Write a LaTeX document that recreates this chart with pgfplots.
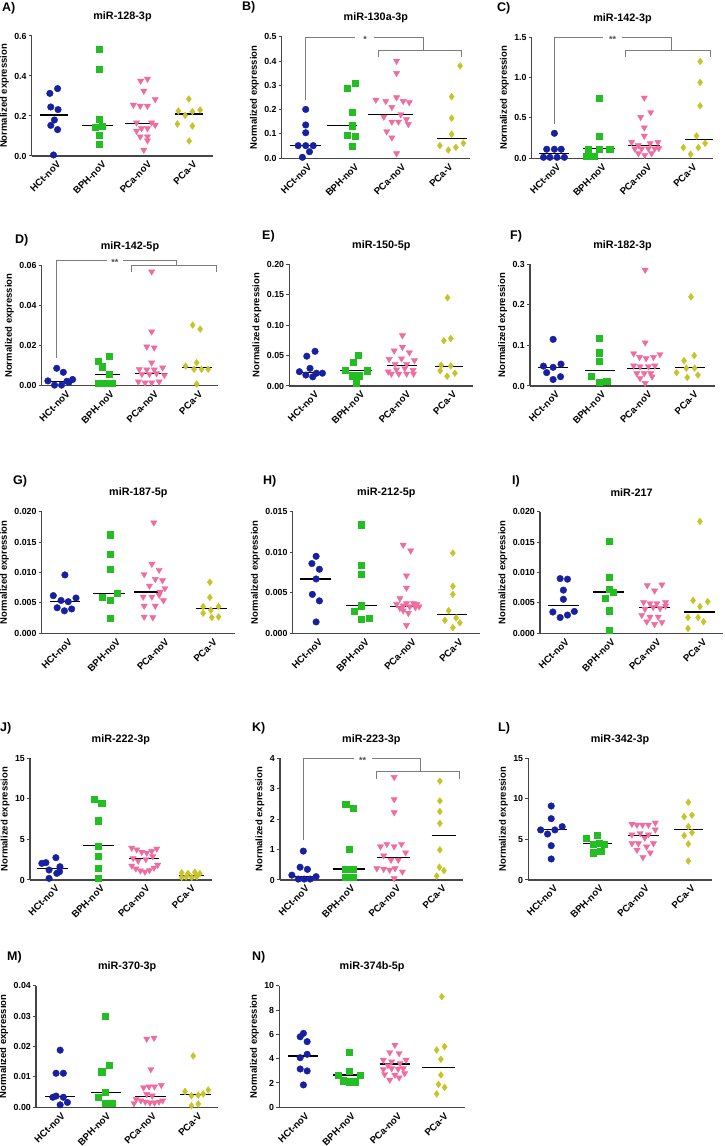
\documentclass[border=0pt]{standalone}
\usepackage{pgfplots}
\pgfplotsset{compat=1.18}
\usepackage{fontspec}
\setmainfont{Liberation Sans}
\newcommand{\fs}[1]{\fontsize{#1}{#1}\selectfont\bfseries}
\definecolor{cH}{RGB}{22,32,160}
\definecolor{cB}{RGB}{34,190,34}
\definecolor{cP}{RGB}{240,108,160}
\definecolor{cV}{RGB}{200,196,40}
\definecolor{axc}{RGB}{70,70,70}
\definecolor{brc}{RGB}{125,125,125}
\pgfplotsset{
 mp/.style={scale only axis, anchor=south west, xmin=-0.5, xmax=3.5, ymin=0, clip=false,
  scaled y ticks=false,
  axis lines*=left, axis line style={line width=1.2pt, axc},
  tick style={line width=1pt, axc}, tick align=outside, major tick length=3pt,
  xtick={0,1,2,3}, xticklabels={HCt-noV,BPH-noV,PCa-noV,PCa-V},
  x tick style={draw=none},
  xticklabel style={font=\fs{9.6}, inner sep=0.5pt, xshift=5pt, yshift=-3.5pt, rotate=45, anchor=east},
  yticklabel style={font=\fs{8.8}, inner sep=2pt},
  ylabel={Normalized expression}, ylabel style={font=\fs{9.5}},
  title style={font=\fs{10.8}, at={(0.5,1)}, anchor=center, yshift=13pt},
 },
 sH/.style={only marks, mark=*, mark size=3.3pt, color=cH},
 sB/.style={only marks, mark=square*, mark size=3.1pt, color=cB},
 sP/.style={only marks, mark=triangle*, mark size=3.6pt, color=cP, mark options={rotate=180}},
 sV/.style={only marks, mark=diamond*, mark size=3.4pt, color=cV},
 med/.style={no marks, black, line width=1.1pt},
 brk/.style={no marks, brc, line width=0.8pt},
}
\begin{document}
\begin{tikzpicture}
\useasboundingbox (0pt,0pt) rectangle (724pt,1146pt);
% letters
\node[anchor=west, font=\fs{12.5}, inner sep=0pt] at (2pt,1138pt) {A)};
\node[anchor=west, font=\fs{12.5}, inner sep=0pt] at (242pt,1139pt) {B)};
\node[anchor=west, font=\fs{12.5}, inner sep=0pt] at (497pt,1138pt) {C)};
\node[anchor=west, font=\fs{12.5}, inner sep=0pt] at (15pt,906pt) {D)};
\node[anchor=west, font=\fs{12.5}, inner sep=0pt] at (262pt,910pt) {E)};
\node[anchor=west, font=\fs{12.5}, inner sep=0pt] at (510pt,910pt) {F)};
\node[anchor=west, font=\fs{12.5}, inner sep=0pt] at (13pt,665pt) {G)};
\node[anchor=west, font=\fs{12.5}, inner sep=0pt] at (263pt,665pt) {H)};
\node[anchor=west, font=\fs{12.5}, inner sep=0pt] at (512pt,665pt) {I)};
\node[anchor=west, font=\fs{12.5}, inner sep=0pt] at (0pt,418pt) {J)};
\node[anchor=west, font=\fs{12.5}, inner sep=0pt] at (252pt,418pt) {K)};
\node[anchor=west, font=\fs{12.5}, inner sep=0pt] at (498pt,418pt) {L)};
\node[anchor=west, font=\fs{12.5}, inner sep=0pt] at (7pt,189pt) {M)};
\node[anchor=west, font=\fs{12.5}, inner sep=0pt] at (252pt,189pt) {N)};

% ---------------- A
\begin{axis}[mp, at={(31.7pt,990pt)}, width=181.6pt, height=120pt, ymax=0.6,
 ytick={0,0.2,0.4,0.6}, yticklabels={0.0,0.2,0.4,0.6}, title={miR-128-3p}]
\addplot[sH] coordinates {(-0.10,0.313) (0.07,0.337) (-0.08,0.245) (0.08,0.232) (0.00,0.180) (-0.08,0.153) (0.07,0.132) (-0.02,0.005)};
\addplot[sB] coordinates {(0.98,0.535) (0.98,0.433) (0.98,0.183) (0.89,0.143) (1.06,0.150) (0.98,0.105) (0.98,0.060)};
\addplot[sP] coordinates {(1.90,0.375) (2.05,0.385) (1.97,0.325) (2.22,0.283) (1.74,0.255) (1.89,0.250) (2.05,0.250) (1.81,0.167) (2.14,0.167) (2.22,0.155) (1.92,0.138) (2.05,0.138) (1.81,0.125) (1.89,0.097) (2.05,0.097) (2.05,0.077) (1.97,0.030)};
\addplot[sV] coordinates {(2.96,0.285) (2.73,0.225) (3.04,0.222) (3.21,0.230) (2.88,0.203) (2.71,0.160) (3.04,0.150) (2.97,0.075)};
\addplot[med] coordinates {(-0.32,0.205) (0.31,0.205)};
\addplot[med] coordinates {(0.60,0.152) (1.30,0.152)};
\addplot[med] coordinates {(1.56,0.162) (2.29,0.162)};
\addplot[med] coordinates {(2.66,0.210) (3.28,0.210)};
\end{axis}

% ---------------- B
\begin{axis}[mp, at={(281.7pt,987.7pt)}, width=188.3pt, height=121.6pt, ymax=0.5,
 ytick={0,0.1,0.2,0.3,0.4,0.5}, yticklabels={0.0,0.1,0.2,0.3,0.4,0.5}, title={miR-130a-3p}]
\addplot[brk] coordinates {(0.01,0.24) (0.01,0.496) (1.06,0.496)};
\addplot[brk] coordinates {(1.45,0.496) (2.50,0.496) (2.50,0.445)};
\addplot[brk] coordinates {(1.55,0.415) (1.55,0.445) (3.32,0.445) (3.32,0.415)};
\node[font=\fs{9}, text=black!70, yshift=-2pt] at (axis cs:1.27,0.496) {*};
\addplot[sH] coordinates {(0.01,0.201) (0.01,0.137) (0.01,0.105) (-0.15,0.052) (0.01,0.052) (0.17,0.052) (0.09,0.027) (-0.06,0.004)};
\addplot[sB] coordinates {(0.89,0.288) (1.06,0.308) (0.99,0.188) (0.99,0.134) (0.89,0.096) (1.06,0.092) (0.99,0.051)};
\addplot[sP] coordinates {(1.94,0.40) (1.94,0.35) (1.94,0.25) (1.50,0.24) (1.71,0.235) (2.08,0.235) (2.21,0.23) (1.84,0.21) (2.03,0.18) (1.67,0.17) (2.15,0.16) (1.84,0.15) (1.98,0.15) (2.19,0.14) (1.73,0.11) (1.84,0.085) (1.94,0.02)};
\addplot[sV] coordinates {(3.29,0.38) (3.11,0.253) (3.11,0.165) (3.11,0.099) (2.86,0.052) (3.04,0.034) (3.20,0.045) (3.36,0.062)};
\addplot[med] coordinates {(-0.32,0.052) (0.34,0.052)};
\addplot[med] coordinates {(0.47,0.134) (1.11,0.134)};
\addplot[med] coordinates {(1.34,0.18) (2.28,0.18)};
\addplot[med] coordinates {(2.79,0.08) (3.44,0.08)};
\end{axis}

% ---------------- C
\begin{axis}[mp, at={(531.7pt,987.7pt)}, width=181.6pt, height=121pt, ymax=1.5,
 ytick={0,0.5,1,1.5}, yticklabels={0.0,0.5,1.0,1.5}, title={miR-142-3p}]
\addplot[brk] coordinates {(-0.01,0.43) (-0.01,1.5) (1.08,1.5)};
\addplot[brk] coordinates {(1.48,1.5) (2.57,1.5) (2.57,1.335)};
\addplot[brk] coordinates {(1.57,1.25) (1.57,1.335) (3.43,1.335) (3.43,1.25)};
\node[font=\fs{9}, text=black!70, yshift=-2pt] at (axis cs:1.28,1.5) {**};
\addplot[sH] coordinates {(0.00,0.31) (-0.17,0.112) (0.00,0.112) (0.15,0.112) (-0.24,0.012) (-0.10,0.012) (0.06,0.012) (0.22,0.012)};
\addplot[sB] coordinates {(0.98,0.74) (0.98,0.277) (0.75,0.116) (0.98,0.116) (1.22,0.116) (0.71,0.03) (0.88,0.03)};
\addplot[sP] coordinates {(1.98,0.75) (2.12,0.57) (1.90,0.51) (1.98,0.38) (1.98,0.277) (1.70,0.20) (1.85,0.16) (2.11,0.185) (2.28,0.20) (1.77,0.12) (1.92,0.12) (2.07,0.12) (2.21,0.12) (1.85,0.06) (1.99,0.04) (2.14,0.06) (2.30,0.124)};
\addplot[sV] coordinates {(3.21,1.20) (3.21,0.94) (3.21,0.65) (3.13,0.277) (3.32,0.186) (2.84,0.132) (3.17,0.132) (3.00,0.05)};
\addplot[med] coordinates {(-0.35,0.058) (0.33,0.058)};
\addplot[med] coordinates {(0.64,0.116) (1.34,0.116)};
\addplot[med] coordinates {(1.63,0.16) (2.33,0.16)};
\addplot[med] coordinates {(2.88,0.23) (3.50,0.23)};
\end{axis}

% ---------------- D
\begin{axis}[mp, at={(41.7pt,760.3pt)}, width=176.6pt, height=120pt, ymax=0.06,
 ytick={0,0.02,0.04,0.06}, yticklabels={0.00,0.02,0.04,0.06}, title={miR-142-5p}]
\addplot[brk] coordinates {(-0.16,0.0137) (-0.16,0.0625) (0.97,0.0625)};
\addplot[brk] coordinates {(1.35,0.0625) (2.56,0.0625) (2.56,0.0603)};
\addplot[brk] coordinates {(1.54,0.0567) (1.54,0.0603) (3.45,0.0603) (3.45,0.0567)};
\node[font=\fs{9}, text=black!70, yshift=-2pt] at (axis cs:1.16,0.0625) {**};
\addplot[sH] coordinates {(-0.16,0.0087) (-0.01,0.0067) (-0.36,0.0024) (0.07,0.0022) (0.20,0.0031) (-0.21,0.0003) (-0.05,0.0003) (0.12,0.0018)};
\addplot[sB] coordinates {(0.78,0.0123) (1.02,0.0148) (0.87,0.0095) (1.02,0.0058) (0.78,0.0012) (0.94,0.0012) (1.10,0.0012)};
\addplot[sP] coordinates {(1.99,0.057) (1.99,0.027) (1.88,0.0195) (2.05,0.019) (1.99,0.0115) (1.71,0.0082) (1.88,0.008) (2.05,0.008) (2.24,0.009) (1.77,0.0058) (1.94,0.0058) (2.10,0.0062) (2.28,0.0053) (1.69,0.002) (1.84,0.0015) (1.99,0.0015) (2.16,0.002)};
\addplot[sV] coordinates {(2.92,0.0303) (3.09,0.0283) (3.01,0.0115) (2.76,0.0098) (2.95,0.0082) (3.12,0.0082) (3.27,0.0082) (3.01,0.0008)};
\addplot[med] coordinates {(-0.39,0.0022) (0.25,0.0022)};
\addplot[med] coordinates {(0.71,0.0058) (1.27,0.0058)};
\addplot[med] coordinates {(1.61,0.0063) (2.33,0.0063)};
\addplot[med] coordinates {(2.67,0.009) (3.35,0.009)};
\end{axis}

% ---------------- E
\begin{axis}[mp, at={(289.3pt,760pt)}, width=184pt, height=121.7pt, ymax=0.2,
 ytick={0,0.05,0.1,0.15,0.2}, yticklabels={0.00,0.05,0.10,0.15,0.20}, title={miR-150-5p}]
\addplot[sH] coordinates {(-0.12,0.049) (0.06,0.057) (-0.05,0.029) (-0.28,0.0235) (-0.14,0.018) (0.01,0.015) (0.09,0.021) (0.22,0.021)};
\addplot[sB] coordinates {(1.00,0.050) (0.89,0.039) (0.71,0.026) (1.20,0.025) (0.86,0.017) (1.02,0.017) (0.96,0.004)};
\addplot[sP] coordinates {(1.96,0.083) (1.96,0.064) (1.78,0.058) (2.11,0.055) (1.67,0.044) (1.94,0.045) (2.22,0.042) (1.80,0.036) (2.05,0.036) (1.65,0.0235) (1.83,0.027) (2.01,0.029) (2.19,0.026) (1.72,0.02) (1.88,0.02) (2.05,0.02) (2.20,0.02)};
\addplot[sV] coordinates {(2.94,0.145) (3.01,0.078) (2.86,0.0745) (2.80,0.034) (3.01,0.033) (2.78,0.025) (3.10,0.021) (2.93,0.016)};
\addplot[med] coordinates {(-0.30,0.0225) (0.28,0.0225)};
\addplot[med] coordinates {(0.60,0.025) (1.29,0.025)};
\addplot[med] coordinates {(1.62,0.0334) (2.27,0.0334)};
\addplot[med] coordinates {(2.67,0.032) (3.28,0.032)};
\end{axis}

% ---------------- F
\begin{axis}[mp, at={(530pt,760pt)}, width=185pt, height=121.7pt, ymax=0.3,
 ytick={0,0.1,0.2,0.3}, yticklabels={0.0,0.1,0.2,0.3}, title={miR-182-3p}]
\addplot[sH] coordinates {(0.00,0.115) (-0.21,0.049) (0.00,0.046) (0.17,0.054) (-0.14,0.033) (0.00,0.016) (0.16,0.023)};
\addplot[sB] coordinates {(1.00,0.1175) (1.00,0.082) (1.00,0.062) (0.83,0.025) (1.00,0.009) (1.16,0.011)};
\addplot[sP] coordinates {(1.99,0.286) (1.99,0.107) (1.74,0.080) (1.87,0.071) (2.01,0.068) (2.17,0.071) (2.31,0.078) (1.74,0.050) (1.88,0.048) (2.06,0.048) (2.20,0.050) (1.81,0.031) (1.97,0.031) (2.11,0.031) (1.88,0.019) (2.14,0.023) (1.99,0.007)};
\addplot[sV] coordinates {(2.98,0.220) (2.83,0.0625) (3.05,0.075) (2.67,0.033) (2.88,0.044) (3.06,0.044) (2.90,0.021) (3.13,0.027)};
\addplot[med] coordinates {(-0.32,0.046) (0.33,0.046)};
\addplot[med] coordinates {(0.69,0.039) (1.34,0.039)};
\addplot[med] coordinates {(1.59,0.044) (2.32,0.044)};
\addplot[med] coordinates {(2.64,0.046) (3.29,0.046)};
\end{axis}

% ---------------- G
\begin{axis}[mp, at={(41.7pt,512.7pt)}, width=193.3pt, height=121.6pt, ymax=0.02,
 ytick={0,0.005,0.01,0.015,0.02}, yticklabels={0.000,0.005,0.010,0.015,0.020}, title={miR-187-5p}]
\addplot[sH] coordinates {(-0.02,0.0096) (-0.26,0.0062) (0.21,0.0058) (-0.10,0.0054) (0.05,0.0052) (-0.18,0.0042) (-0.03,0.0037) (0.12,0.0040)};
\addplot[sB] coordinates {(0.91,0.0162) (0.91,0.0130) (0.91,0.0105) (0.76,0.0060) (1.07,0.0066) (0.91,0.0055) (0.91,0.0025)};
\addplot[sP] coordinates {(1.82,0.0182) (1.78,0.0114) (1.93,0.0104) (1.62,0.0097) (1.85,0.0089) (2.00,0.0087) (1.73,0.0078) (2.05,0.0074) (1.60,0.0060) (1.78,0.0060) (1.93,0.0063) (2.02,0.0054) (1.62,0.0045) (1.85,0.0045) (1.62,0.0027) (1.80,0.0026) (1.95,0.0068)};
\addplot[sV] coordinates {(2.98,0.0084) (2.98,0.0059) (2.84,0.0044) (3.16,0.0044) (3.00,0.0038) (2.84,0.0033) (3.02,0.0026) (3.16,0.0027)};
\addplot[med] coordinates {(-0.33,0.0052) (0.29,0.0052)};
\addplot[med] coordinates {(0.57,0.0066) (1.22,0.0066)};
\addplot[med] coordinates {(1.40,0.0068) (1.98,0.0068)};
\addplot[med] coordinates {(2.69,0.0041) (3.33,0.0041)};
\end{axis}

% ---------------- H
\begin{axis}[mp, at={(292.7pt,512.7pt)}, width=187.3pt, height=121.6pt, ymax=0.015,
 ytick={0,0.005,0.01,0.015}, yticklabels={0.000,0.005,0.010,0.015}, title={miR-212-5p}]
\addplot[sH] coordinates {(0.00,0.0095) (-0.09,0.0086) (0.07,0.0079) (0.00,0.0067) (-0.08,0.0048) (0.07,0.0040) (0.00,0.0014)};
\addplot[sB] coordinates {(0.97,0.0134) (0.97,0.0084) (0.97,0.0073) (0.97,0.0034) (0.81,0.0027) (0.97,0.0017) (1.13,0.0019)};
\addplot[sP] coordinates {(1.86,0.0109) (2.02,0.0102) (1.93,0.0071) (1.93,0.0056) (1.79,0.0043) (1.93,0.0037) (2.08,0.0037) (1.72,0.0036) (2.15,0.0036) (1.86,0.0034) (2.00,0.0033) (1.79,0.0031) (2.12,0.0032) (1.97,0.0025) (1.86,0.0028) (2.20,0.0033) (1.93,0.0010)};
\addplot[sV] coordinates {(2.92,0.0099) (2.92,0.0058) (2.92,0.0048) (2.83,0.0028) (2.75,0.0016) (2.99,0.0019) (3.07,0.0013) (2.92,0.0007)};
\addplot[med] coordinates {(-0.34,0.0067) (0.31,0.0067)};
\addplot[med] coordinates {(0.64,0.0034) (1.29,0.0034)};
\addplot[med] coordinates {(1.58,0.0033) (2.25,0.0033)};
\addplot[med] coordinates {(2.58,0.0023) (3.23,0.0023)};
\end{axis}

% ---------------- I
\begin{axis}[mp, at={(540pt,512.7pt)}, width=183.3pt, height=121.6pt, ymax=0.02,
 ytick={0,0.005,0.01,0.015,0.02}, yticklabels={0.000,0.005,0.010,0.015,0.020}, title={miR-217}]
\addplot[sH] coordinates {(-0.06,0.0090) (0.10,0.0089) (0.01,0.0071) (0.01,0.0056) (-0.22,0.0035) (-0.06,0.0026) (0.10,0.0030) (0.25,0.0036)};
\addplot[sB] coordinates {(1.01,0.0151) (1.01,0.0092) (1.01,0.0073) (1.10,0.0067) (0.93,0.0058) (1.01,0.0037) (1.01,0.0005)};
\addplot[sP] coordinates {(1.84,0.0079) (2.16,0.0080) (2.00,0.0070) (1.76,0.0051) (1.90,0.0049) (2.05,0.0049) (2.24,0.0051) (1.79,0.0040) (1.97,0.0043) (2.12,0.0041) (1.72,0.0030) (1.90,0.0027) (2.08,0.0027) (1.83,0.0019) (2.00,0.0015) (2.16,0.0018) (2.24,0.0045)};
\addplot[sV] coordinates {(2.99,0.0184) (2.84,0.0054) (3.16,0.0052) (2.99,0.0044) (2.73,0.0026) (2.95,0.0026) (3.07,0.0019) (2.73,0.0008)};
\addplot[med] coordinates {(-0.32,0.0045) (0.36,0.0045)};
\addplot[med] coordinates {(0.66,0.0068) (1.33,0.0068)};
\addplot[med] coordinates {(1.67,0.0042) (2.34,0.0042)};
\addplot[med] coordinates {(2.64,0.0035) (3.32,0.0035)};
\end{axis}

% ---------------- J
\begin{axis}[mp, at={(30pt,266pt)}, width=181.7pt, height=121.7pt, ymax=15,
 ytick={0,5,10,15}, yticklabels={0,5,10,15}, title={miR-222-3p}]
\addplot[sH] coordinates {(-0.24,2.05) (-0.15,2.14) (0.07,2.75) (-0.08,1.23) (0.16,1.64) (0.09,0.82) (0.15,1.03) (-0.08,0.20)};
\addplot[sB] coordinates {(0.92,10.0) (1.08,9.5) (1.00,7.3) (1.00,4.2) (1.00,2.9) (1.00,1.5) (1.00,0.2)};
\addplot[sP] coordinates {(1.74,3.95) (1.85,3.75) (1.96,3.45) (2.07,3.35) (2.18,3.55) (2.29,3.85) (1.74,1.75) (1.83,1.40) (1.93,1.15) (2.03,1.00) (2.13,1.20) (2.23,1.50) (2.31,1.85) (1.77,2.70) (1.88,2.35) (2.20,2.90) (2.05,2.55)};
\addplot[sV] coordinates {(2.84,0.9) (2.98,0.8) (3.13,0.95) (3.24,0.8) (2.94,0.4) (3.06,0.33) (2.84,0.33) (3.17,0.4)};
\addplot[med] coordinates {(-0.35,1.4) (0.33,1.4)};
\addplot[med] coordinates {(0.67,4.3) (1.34,4.3)};
\addplot[med] coordinates {(1.67,2.6) (2.35,2.6)};
\addplot[med] coordinates {(2.79,0.55) (3.33,0.55)};
\end{axis}

% ---------------- K
\begin{axis}[mp, at={(280pt,266pt)}, width=182.7pt, height=121.7pt, ymax=4,
 ytick={0,1,2,3,4}, yticklabels={0,1,2,3,4}, title={miR-223-3p}]
\addplot[brk] coordinates {(0.01,1.3) (0.01,4.0) (1.11,4.0)};
\addplot[brk] coordinates {(1.51,4.0) (2.58,4.0) (2.58,3.56)};
\addplot[brk] coordinates {(1.60,3.32) (1.60,3.56) (3.43,3.56) (3.43,3.32)};
\node[font=\fs{9}, text=black!70, yshift=-2pt] at (axis cs:1.31,4.0) {**};
\addplot[sH] coordinates {(0.01,0.95) (-0.06,0.42) (0.10,0.35) (-0.24,0.16) (-0.10,0.03) (0.03,0.03) (0.16,0.03) (0.29,0.11)};
\addplot[sB] coordinates {(0.94,2.5) (1.10,2.36) (1.02,1.02) (0.94,0.36) (1.10,0.36) (0.94,0.09) (1.10,0.09)};
\addplot[sP] coordinates {(2.00,3.38) (2.00,2.65) (2.00,2.22) (1.84,1.18) (2.16,1.18) (1.70,1.10) (2.00,1.10) (2.25,0.90) (1.77,0.80) (1.93,0.66) (2.09,0.66) (1.77,0.36) (1.90,0.33) (2.02,0.38) (2.18,0.27) (2.00,0.05) (1.62,0.38)};
\addplot[sV] coordinates {(3.00,3.25) (3.00,2.60) (3.00,2.25) (3.00,1.86) (3.00,0.99) (2.99,0.42) (3.09,0.31) (2.93,0.13)};
\addplot[med] coordinates {(-0.28,0.11) (0.34,0.11)};
\addplot[med] coordinates {(0.67,0.36) (1.35,0.36)};
\addplot[med] coordinates {(1.62,0.73) (2.35,0.73)};
\addplot[med] coordinates {(2.82,1.45) (3.35,1.45)};
\end{axis}

% ---------------- L
\begin{axis}[mp, at={(528.3pt,266pt)}, width=183.4pt, height=121.7pt, ymax=15,
 ytick={0,5,10,15}, yticklabels={0,5,10,15}, title={miR-342-3p}]
\addplot[sH] coordinates {(0.00,9.12) (0.00,7.56) (-0.23,6.17) (0.08,6.17) (0.24,6.58) (-0.08,5.67) (0.00,4.23) (0.00,2.59)};
\addplot[sB] coordinates {(0.77,5.2) (1.00,5.5) (0.92,4.45) (1.15,4.45) (1.04,4.5) (0.92,3.37) (1.08,3.58)};
\addplot[sP] coordinates {(1.76,6.9) (1.87,6.8) (1.99,6.8) (2.12,6.8) (2.27,7.05) (1.76,5.6) (1.94,5.75) (2.12,5.6) (2.27,6.2) (1.76,4.5) (1.90,4.5) (2.08,4.1) (2.23,4.5) (1.87,3.7) (2.16,3.37) (2.00,2.8) (2.04,5.2)};
\addplot[sV] coordinates {(2.99,9.58) (2.90,7.8) (3.07,8.0) (2.99,6.58) (2.90,5.47) (3.07,5.84) (2.99,4.44) (2.99,2.34)};
\addplot[med] coordinates {(-0.30,6.17) (0.35,6.17)};
\addplot[med] coordinates {(0.70,4.5) (1.33,4.5)};
\addplot[med] coordinates {(1.67,5.43) (2.34,5.43)};
\addplot[med] coordinates {(2.67,6.17) (3.32,6.17)};
\end{axis}

% ---------------- M
\begin{axis}[mp, at={(36pt,38.7pt)}, width=182.3pt, height=121.6pt, ymax=0.04,
 ytick={0,0.01,0.02,0.03,0.04}, yticklabels={0.00,0.01,0.02,0.03,0.04}, title={miR-370-3p}]
\addplot[sH] coordinates {(0.03,0.0188) (-0.06,0.0112) (0.10,0.0112) (-0.13,0.0033) (-0.06,0.0037) (0.10,0.0033) (0.19,0.0016) (0.03,0.0008)};
\addplot[sB] coordinates {(1.01,0.0300) (1.10,0.0139) (0.94,0.0117) (1.01,0.0049) (0.87,0.0033) (1.01,0.0013) (1.18,0.0013)};
\addplot[sP] coordinates {(1.93,0.0225) (2.09,0.0228) (2.02,0.0125) (1.86,0.0065) (1.98,0.0068) (2.10,0.0068) (2.25,0.0073) (1.93,0.0043) (1.70,0.0026) (1.80,0.0022) (1.90,0.0018) (2.00,0.0015) (2.10,0.0015) (2.20,0.0018) (2.28,0.0022) (1.65,0.0013) (2.05,0.0038)};
\addplot[sV] coordinates {(2.95,0.0169) (2.77,0.0052) (3.28,0.0057) (2.91,0.0038) (3.06,0.0040) (3.17,0.0044) (2.91,0.0005) (3.06,0.0011)};
\addplot[med] coordinates {(-0.30,0.0035) (0.36,0.0035)};
\addplot[med] coordinates {(0.70,0.0048) (1.36,0.0048)};
\addplot[med] coordinates {(1.67,0.0037) (2.35,0.0037)};
\addplot[med] coordinates {(2.66,0.0041) (3.35,0.0041)};
\end{axis}

% ---------------- N
\begin{axis}[mp, at={(279.3pt,38.7pt)}, width=185.7pt, height=121.6pt, ymax=10,
 ytick={0,2,4,6,8,10}, yticklabels={0,2,4,6,8,10}, title={miR-374b-5p}]
\addplot[sH] coordinates {(0.02,6.08) (-0.05,5.80) (0.10,5.40) (0.10,4.36) (-0.05,4.08) (-0.05,3.15) (0.10,2.99) (0.02,1.84)};
\addplot[sB] coordinates {(1.01,4.52) (1.01,2.99) (0.77,2.66) (1.25,2.66) (0.88,2.19) (1.01,2.11) (1.13,2.11)};
\addplot[sP] coordinates {(1.99,5.12) (1.88,4.52) (2.08,4.44) (1.74,3.89) (1.92,3.75) (2.10,3.62) (2.23,3.89) (1.74,3.12) (1.92,3.20) (2.06,3.15) (2.17,3.20) (1.77,2.71) (1.99,2.66) (2.20,2.79) (1.88,2.25) (2.08,2.44) (1.84,3.45)};
\addplot[sV] coordinates {(3.00,9.10) (3.06,4.99) (2.89,4.71) (2.98,3.95) (2.98,2.66) (2.93,1.89) (3.06,1.64) (2.89,1.10)};
\addplot[med] coordinates {(-0.31,4.22) (0.34,4.22)};
\addplot[med] coordinates {(0.66,2.66) (1.31,2.66)};
\addplot[med] coordinates {(1.67,3.56) (2.32,3.56)};
\addplot[med] coordinates {(2.57,3.29) (3.29,3.29)};
\end{axis}
\end{tikzpicture}
\end{document}
